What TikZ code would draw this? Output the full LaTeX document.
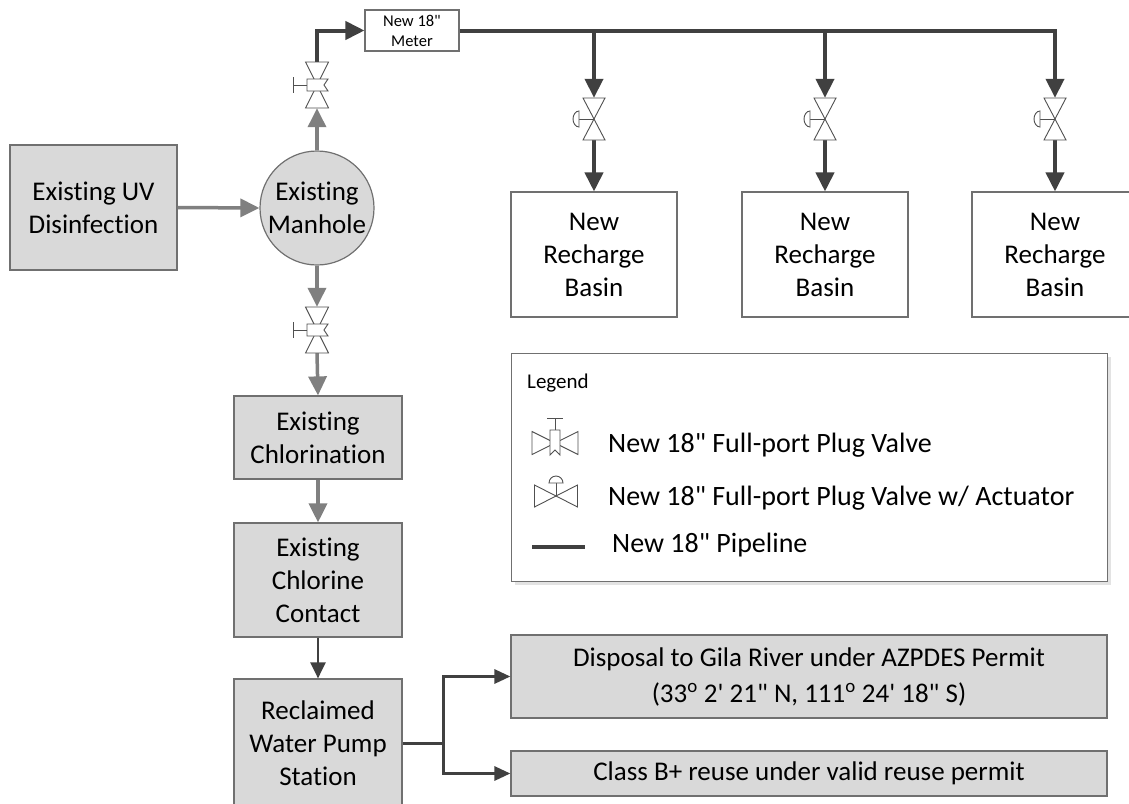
\documentclass[tikz,border=0pt]{standalone}
\usepackage{fontspec}
\setmainfont{Carlito}[Ligatures={TeXOff,NoCommon}]
\usetikzlibrary{arrows.meta,calc}
\definecolor{boxfill}{HTML}{D9D9D9}
\definecolor{boxline}{HTML}{707070}
\definecolor{flowgray}{HTML}{808080}
\definecolor{pipe}{HTML}{404040}
\definecolor{valveline}{HTML}{505050}
\tikzset{
  exbox/.style={draw=boxline, line width=1.2pt, fill=boxfill, inner sep=0pt, align=center, font=\fontsize{27}{33}\selectfont},
  newbox/.style={draw=boxline, line width=1.1pt, fill=white, inner sep=0pt, align=center, font=\fontsize{27}{33}\selectfont},
  grayflow/.style={draw=flowgray, line width=3.5pt, -{Triangle[length=19pt,width=18pt]}},
  pipeflow/.style={draw=pipe, line width=4pt, -{Triangle[length=19pt,width=18pt]}},
  pipeline/.style={draw=pipe, line width=4pt},
  outflow/.style={draw=pipe, line width=3pt, -{Triangle[length=16pt,width=14pt]}},
  valve/.style={draw=valveline, line width=0.9pt, fill=white},
  plugslot/.style={inner sep=0pt, minimum width=23pt, minimum height=46pt},
  actslot/.style={inner sep=0pt, minimum width=22pt, minimum height=42pt},
  legtext/.style={anchor=base west, inner sep=0pt, font=\fontsize{28}{33}\selectfont},
  plugvalve/.pic={
    \draw[valve] (-11.5,-23) -- (11.5,-23) -- (0,0) -- cycle;
    \draw[valve] (-11.5,23) -- (11.5,23) -- (0,0) -- cycle;
    \draw[valve] (-10,-6) -- (11,-6) -- (7,0) -- (11,6) -- (-10,6) -- cycle;
    \draw[valve,fill=none] (-10,0) -- (-24,0) (-24,-8) -- (-24,8);
  },
  actvalve/.pic={
    \draw[valve] (-11,-21) -- (11,-21) -- (0,0) -- cycle;
    \draw[valve] (-11,21) -- (11,21) -- (0,0) -- cycle;
    \draw[valve,fill=none] (0,0) -- (-15,0);
    \draw[valve] (-15,-8) arc[start angle=270,end angle=90,x radius=6,y radius=8] -- cycle;
  },
  legplug/.pic={
    \draw[valve] (-23,-11.5) -- (-23,11.5) -- (0,0) -- cycle;
    \draw[valve] (23,-11.5) -- (23,11.5) -- (0,0) -- cycle;
    \draw[valve] (-5,-13) -- (5,-13) -- (5,12) -- (0,7) -- (-5,12) -- cycle;
    \draw[valve,fill=none] (0,-13) -- (0,-25) (-8,-25) -- (8,-25);
  },
  legact/.pic={
    \draw[valve] (-21.5,-11) -- (-21.5,11) -- (0,0) -- cycle;
    \draw[valve] (21.5,-11) -- (21.5,11) -- (0,0) -- cycle;
    \draw[valve,fill=none] (0,0) -- (0,-13);
    \draw[valve] (-7,-13) arc[start angle=180,end angle=360,x radius=7,y radius=7] -- cycle;
  }
}
\begin{document}
\begin{tikzpicture}[x=1pt,y=-1pt]
\useasboundingbox (0,0) rectangle (1129,803);

% main boxes
\node[exbox, minimum width=167pt, minimum height=125pt] (uv) at (93.5,207.5) {Existing UV\\Disinfection};
\node[exbox, circle, minimum size=114pt] (man) at (317,208) {Existing\\Manhole};
\node[exbox, minimum width=168pt, minimum height=83pt] (chl) at (318,437.5) {Existing\\Chlorination};
\node[exbox, minimum width=168pt, minimum height=114pt] (con) at (318,580) {Existing\\Chlorine\\Contact};
\node[exbox, minimum width=168pt, minimum height=128pt] (rec) at (318,743) {Reclaimed\\Water Pump\\Station};
\node[newbox, minimum width=94pt, minimum height=41pt, font=\fontsize{16.5}{20}\selectfont] (met) at (412,30.5) {New 18"\\Meter};

\node[newbox, minimum width=166pt, minimum height=125pt] (b1) at (594,254.5) {New\\Recharge\\Basin};
\node[newbox, minimum width=166pt, minimum height=125pt] (b2) at (825,254.5) {New\\Recharge\\Basin};
\node[newbox, minimum width=166pt, minimum height=125pt] (b3) at (1055,254.5) {New\\Recharge\\Basin};

\node[exbox, minimum width=596pt, minimum height=83pt, font=\fontsize{27}{36}\selectfont] (dis) at (809,676.5) {Disposal to Gila River under AZPDES Permit\\(33\textsuperscript{o} 2' 21" N, 111\textsuperscript{o} 24' 18" S)};
\node[exbox, minimum width=596pt, minimum height=45pt] (cls) at (809,773.5) {Class B+ reuse under valid reuse permit};

% valve slots
\node[plugslot] (v1) at (317,85) {};
\node[plugslot] (v2) at (317,330) {};
\node[actslot] (a1) at (594,119) {};
\node[actslot] (a2) at (825,119) {};
\node[actslot] (a3) at (1055,119) {};
\coordinate (j1) at (594,30.5);
\coordinate (j2) at (825,30.5);
\coordinate (split) at (443,743);

% gray flows
\draw[grayflow] (uv.east) -- (man.west);
\draw[grayflow] (man.north) -- (v1.south);
\draw[grayflow] (man.south) -- (v2.north);
\draw[grayflow] (v2.south) -- (chl.north);
\draw[grayflow] (chl.south) -- (con.north);
\draw[draw=pipe, line width=2.5pt, -{Triangle[length=16pt,width=15pt]}] (con.south) -- (rec.north);

% pipeline
\draw[pipeflow] (v1.north) |- (met.west);
\draw[pipeflow] (met.east) -| (a3.north);
\draw[pipeflow] (j1) -- (a1.north);
\draw[pipeflow] (j2) -- (a2.north);
\draw[pipeflow] (a1.south) -- (b1.north);
\draw[pipeflow] (a2.south) -- (b2.north);
\draw[pipeflow] (a3.south) -- (b3.north);

% outputs
\draw[draw=pipe, line width=3pt] (rec.east) -- (split);
\draw[outflow] (split) |- (dis.west);
\draw[outflow] (split) |- (cls.west);

% valves
\pic at (v1) {plugvalve};
\pic at (v2) {plugvalve};
\pic at (a1) {actvalve};
\pic at (a2) {actvalve};
\pic at (a3) {actvalve};

% legend
\fill[gray!22] (515,357) rectangle (1111,585);
\node[draw=boxline, line width=1.1pt, fill=white, minimum width=596pt, minimum height=228pt, anchor=north west, inner sep=0pt] (leg) at (511,353) {};
\node[anchor=base west, inner sep=0pt, font=\fontsize{21}{25}\selectfont] (legt) at (527,388) {Legend};
\pic at (555,443) {legplug};
\pic at (556,496) {legact};
\coordinate (ll1) at (532,547);
\coordinate (ll2) at (585,547);
\draw[pipeline] (ll1) -- (ll2);
\node[legtext] (lt1) at (608,452) {New 18" Full-port Plug Valve};
\node[legtext] (lt2) at (608,505) {New 18" Full-port Plug Valve w/ Actuator};
\node[legtext] (lt3) at (612,552) {New 18" Pipeline};
\end{tikzpicture}
\end{document}
